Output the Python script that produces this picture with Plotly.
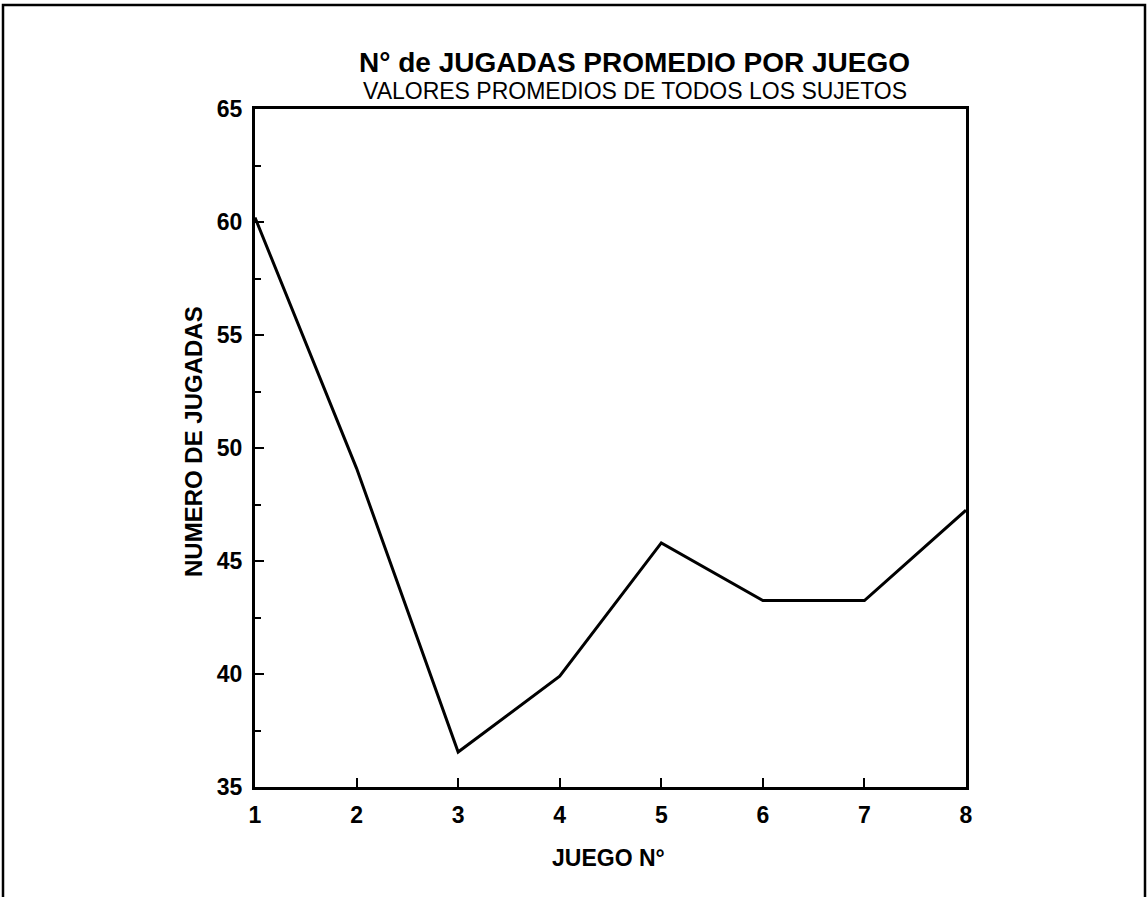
import plotly.graph_objects as go

juego = [1, 2, 3, 4, 5, 6, 7, 8]
jugadas = [60.2, 49.1, 36.55, 39.9, 45.8, 43.25, 43.25, 47.25]
y_ticks = [35, 40, 45, 50, 55, 60, 65]
y_minor = [37.5, 42.5, 47.5, 52.5, 57.5, 62.5]
x_ticks = [1, 2, 3, 4, 5, 6, 7, 8]

FONT = "Liberation Sans, Arial, sans-serif"
W, H = 1148, 897
L, R, T, B = 255, 182, 109, 110
pw, ph = W - L - R, H - T - B

def px_x(x):
    return (x - L) / pw

def px_y(y):
    return (H - B - y) / ph

fig = go.Figure()
fig.add_trace(go.Scatter(x=juego, y=jugadas, mode="lines",
                         line=dict(color="black", width=3), showlegend=False,
                         cliponaxis=False))

axis_common = dict(showgrid=False, zeroline=False, showline=True, linecolor="black",
                   linewidth=3, mirror=True, ticks="inside", tickcolor="black",
                   tickwidth=2, ticklen=9,
                   tickfont=dict(family=FONT, size=23, color="black", weight="bold"))

fig.update_xaxes(range=[1, 8], tickvals=x_ticks, ticktext=[str(v) for v in x_ticks],
                 ticklabelstandoff=5, **axis_common)
fig.update_yaxes(range=[35, 65], tickvals=y_ticks, ticktext=[str(v) for v in y_ticks],
                 ticklabelstandoff=5,
                 minor=dict(tickvals=y_minor, ticks="inside",
                            ticklen=6, tickwidth=2, tickcolor="black"),
                 **axis_common)

fig.update_layout(
    width=W, height=H,
    margin=dict(l=L, r=R, t=T, b=B),
    paper_bgcolor="white", plot_bgcolor="white",
    font=dict(family=FONT, color="black"),
    shapes=[dict(type="rect", xref="paper", yref="paper",
                 x0=px_x(3), x1=px_x(1145), y0=px_y(905), y1=px_y(5),
                 line=dict(color="black", width=2.5), fillcolor="rgba(0,0,0,0)")],
    annotations=[
        dict(text="N° de JUGADAS PROMEDIO POR JUEGO", xref="paper", yref="paper",
             x=px_x(634), y=px_y(62), showarrow=False, xanchor="center", yanchor="middle",
             font=dict(family=FONT, size=28, color="black", weight="bold")),
        dict(text="VALORES PROMEDIOS DE TODOS LOS SUJETOS", xref="paper", yref="paper",
             x=px_x(635), y=px_y(91), showarrow=False, xanchor="center", yanchor="middle",
             font=dict(family=FONT, size=23, color="black")),
        dict(text="NUMERO DE JUGADAS", xref="paper", yref="paper",
             x=px_x(193), y=px_y(442), showarrow=False, xanchor="center", yanchor="middle",
             textangle=-90,
             font=dict(family=FONT, size=24, color="black", weight="bold")),
        dict(text="JUEGO N°", xref="paper", yref="paper",
             x=px_x(608), y=px_y(858), showarrow=False, xanchor="center", yanchor="middle",
             font=dict(family=FONT, size=23, color="black", weight="bold")),
    ],
)

fig.write_html("out.html", config={"displayModeBar": False},
               post_script="document.body.style.margin='0';")
